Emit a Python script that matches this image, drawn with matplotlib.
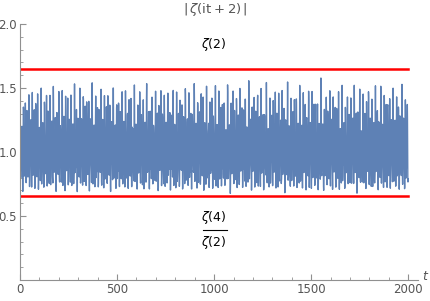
import matplotlib
matplotlib.use("Agg")
import matplotlib.pyplot as plt
from matplotlib.lines import Line2D
import numpy as np

# Sample points for t and the plotted quantity |zeta(2 + i t)|
t_vals = np.linspace(0, 2000, 2401)
s = 2 + 1j * t_vals

# zeta(s) via Euler-Maclaurin summation (N > t/(2 pi))
N = 400
n = np.arange(1, N)
partial = np.exp(-np.outer(s, np.log(n))).sum(axis=1)
NN = float(N)
zeta = (partial + NN ** (1 - s) / (s - 1) + 0.5 * NN ** (-s)
        + (1 / 12) * s * NN ** (-s - 1)
        - (1 / 720) * s * (s + 1) * (s + 2) * NN ** (-s - 3))
abs_zeta = np.abs(zeta)

# Bounds
upper = np.pi ** 2 / 6      # zeta(2)
lower = np.pi ** 2 / 15     # zeta(4)/zeta(2)

xticks = [0, 500, 1000, 1500, 2000]
yticks = [0.5, 1.0, 1.5, 2.0]

grey = "#909090"
fig = plt.figure(figsize=(4.3, 3.01), dpi=100)
ax = fig.add_axes([20 / 430, 21 / 301, 398 / 430, 256 / 301])

ax.plot(t_vals, abs_zeta, color="#5E81B5", lw=1.0)
ax.plot([0, 2000], [upper, upper], color="#FF0000", lw=1.8)
ax.plot([0, 2000], [lower, lower], color="#FF0000", lw=1.8)

ax.text(1000, 1.84, r"$\zeta(2)$", ha="center", va="center", fontsize=9)

# fraction zeta(4)/zeta(2) written as numerator, bar, denominator
ax.text(1000, 0.485, r"$\zeta(4)$", ha="center", va="center", fontsize=9)
ax.text(1000, 0.29, r"$\zeta(2)$", ha="center", va="center", fontsize=9)
fig.add_artist(Line2D([203 / 430, 227 / 430], [1 - 230 / 301, 1 - 230 / 301],
                      color="black", lw=0.8))

ax.set_xlim(0, 2050)
ax.set_ylim(0, 2.0)
ax.set_xticks(xticks)
ax.set_yticks(yticks)
ax.set_xticks(np.arange(0, 2001, 100), minor=True)
ax.set_yticks(np.arange(0, 2.01, 0.1), minor=True)
ax.tick_params(axis="both", which="major", length=4, color=grey, labelcolor="#555555",
               labelsize=8.5, direction="in", pad=2)
ax.tick_params(axis="both", which="minor", length=2, color=grey, direction="in")
ax.set_yticklabels([f"{v:.1f}" for v in yticks])

ax.spines["right"].set_visible(False)
ax.spines["top"].set_visible(False)
ax.spines["left"].set_color(grey)
ax.spines["bottom"].set_color(grey)

fig.text(425 / 430, 1 - 277 / 301, "t", fontsize=9, style="italic", color="#555555", ha="center", va="center")
fig.text(215 / 430, 1 - 10 / 301, r"$|\,\zeta(\mathrm{it}+2)\,|$", fontsize=9.5, color="#555555",
         ha="center", va="center")

fig.savefig("out.png", dpi=100)
